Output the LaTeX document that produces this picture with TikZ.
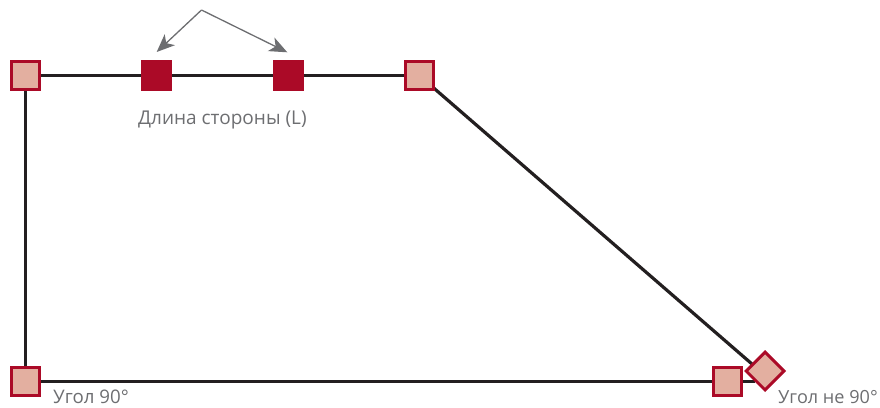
\documentclass[tikz,border=0pt]{standalone}
\usepackage{fontspec}
\setmainfont{Open Sans}
\usetikzlibrary{arrows.meta}
\definecolor{crim}{HTML}{AB0A27}
\definecolor{pinkf}{HTML}{E3AFA0}
\definecolor{lineblk}{HTML}{231F20}
\definecolor{gry}{HTML}{6D6E71}
\pgfdeclarelayer{under}
\pgfsetlayers{under,main}
\tikzset{x=1pt,y=-1pt,
 corner/.style={draw=crim,fill=pinkf,line width=3pt,minimum size=27.7pt,inner sep=0pt,outer sep=0pt},
 midn/.style={fill=crim,minimum size=31pt,inner sep=0pt,outer sep=0pt},
 edge/.style={draw=lineblk,line width=3.2pt},
 lead/.style={draw=gry,line width=1.3pt,-{Stealth[length=18pt,width=15pt,inset=5pt]}},
 lab/.style={text=gry,font=\fontsize{18.7}{20}\selectfont,inner sep=0pt,anchor=base west}}
\begin{document}
\begin{tikzpicture}
\useasboundingbox (0,0) rectangle (880,407);
\coordinate (hub) at (201.5,10);
\coordinate (ta) at (156.7,52);
\coordinate (tb) at (287.3,52.3);
\coordinate (diagend) at (756,367.5);
\coordinate (baseend) at (755,381.3);
\node[corner] (tl) at (25.4,75.7) {};
\node[corner] (tr) at (419.5,75.7) {};
\node[corner] (bl) at (25.4,381.3) {};
\node[corner] (br) at (727.5,381.3) {};
\node[midn] (m1) at (156.5,75.7) {};
\node[midn] (m2) at (288.5,75.7) {};
\node[corner,rotate=45,minimum size=26.7pt] (dia) at (765,371) {};
\begin{pgfonlayer}{under}
\draw[edge] (tl.center) -- (m1.center);
\draw[edge] (m1.center) -- (m2.center);
\draw[edge] (m2.center) -- (tr.center);
\draw[edge] (tl.center) -- (bl.center);
\draw[edge] (bl.center) -- (br.center);
\draw[edge] (br.center) -- (baseend);
\draw[edge] (tr.center) -- (diagend);
\end{pgfonlayer}
\draw[lead] (hub) -- (ta);
\draw[lead] (hub) -- (tb);
\node[lab,font=\fontsize{19}{20}\selectfont] (l1) at (138,124.5) {Длина стороны (L)};
\node[lab] (l2) at (53,403) {Угол 90°};
\node[lab,font=\fontsize{18.1}{20}\selectfont] (l3) at (778,403) {Угол не 90°};
\end{tikzpicture}
\end{document}
